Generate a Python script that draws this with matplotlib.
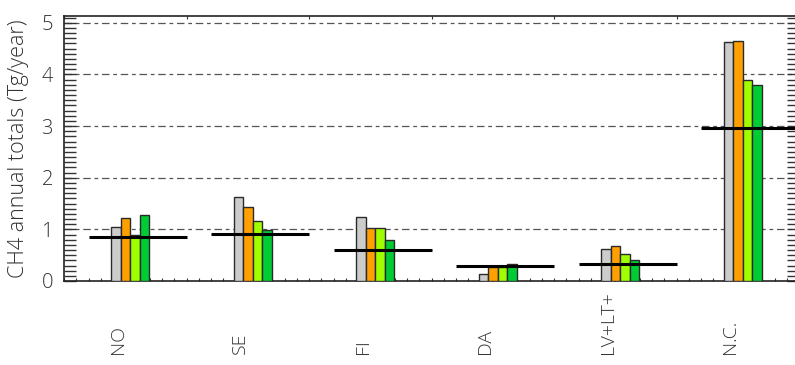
import matplotlib
matplotlib.use("Agg")
import matplotlib.pyplot as plt
from matplotlib.ticker import MultipleLocator, FixedLocator
import matplotlib.transforms as mtransforms

# Regions and annual CH4 totals (Tg/year) for four inventories plus a reference estimate
regions = ["NO", "SE", "FI", "DA", "LV+LT+", "N.C."]
series_grey = [1.04, 1.63, 1.23, 0.13, 0.62, 4.63]
series_orange = [1.21, 1.44, 1.03, 0.265, 0.68, 4.65]
series_lime = [0.90, 1.17, 1.03, 0.265, 0.515, 3.89]
series_green = [1.27, 0.98, 0.80, 0.335, 0.405, 3.79]
reference = [0.86, 0.91, 0.605, 0.29, 0.33, 2.97]

series = [series_grey, series_orange, series_lime, series_green]
colors = ["#cccccc", "#ff9f00", "#9fff00", "#00cc33"]

fig = plt.figure(figsize=(7.95, 3.65), dpi=100)
ax = fig.add_axes([64 / 795, 84 / 365, 735 / 795, 265 / 365])

bar_w = 0.077
group_c = 0.54
for i, (vals, col) in enumerate(zip(series, colors)):
    xs = [k + group_c + (i - 1.5) * bar_w for k in range(len(regions))]
    ax.bar(xs, vals, width=bar_w, color=col, edgecolor="#2a2a2a",
           linewidth=1.0, zorder=3)

for k, v in enumerate(reference):
    ax.hlines(v, k + 0.2, k + 1.0, colors="black", linewidth=2.2, zorder=4)

ax.set_xlim(0, 6)
ax.set_ylim(0, 5.13)

# dashed horizontal grid at whole units
for yv in range(1, 6):
    ax.axhline(yv, color="#555555", linewidth=0.9, dashes=(6, 3, 3, 3), zorder=1)

base_kw = dict(family=["Open Sans", "DejaVu Sans"], fontweight="light",
               color="#333333")

# y axis: ticks every 0.1 on both sides, pointing inward
ax.yaxis.set_major_locator(MultipleLocator(1))
ax.yaxis.set_minor_locator(MultipleLocator(0.1))
ax.tick_params(axis="y", which="both", direction="in", length=8.5, width=1.0,
               left=True, right=True, color="#333333", pad=8)
ax.set_yticks(range(0, 6))
ax.set_yticklabels([str(v) for v in range(0, 6)], fontsize=14.5, **base_kw)

# x axis: small inward ticks
ax.xaxis.set_major_locator(FixedLocator(range(0, 7)))
ax.xaxis.set_minor_locator(MultipleLocator(0.1))
ax.tick_params(axis="x", which="both", direction="in", length=2.5, width=0.8,
               top=True, bottom=True, color="#333333", labelbottom=False)
ax.tick_params(axis="x", which="minor", top=False)

for s in ax.spines.values():
    s.set_linewidth(1.2)
    s.set_color("#222222")

ax.set_ylabel("CH4 annual totals (Tg/year)", labelpad=9, fontsize=15.5, **base_kw)

# region names, rotated, below the axis
trans = mtransforms.blended_transform_factory(ax.transData, fig.transFigure)
for k, name in enumerate(regions):
    ax.text(k + 0.44, 11 / 365, name, rotation=90, ha="center", va="bottom",
            transform=trans, fontsize=14, **base_kw)

fig.savefig("out.png", dpi=100)
